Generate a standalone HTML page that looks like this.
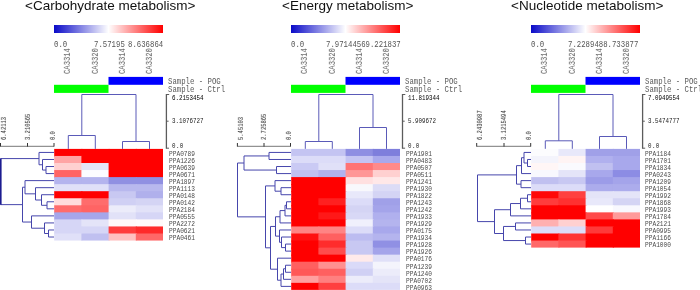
<!DOCTYPE html>
<html><head><meta charset="utf-8"><style>
*{margin:0;padding:0}
html,body{width:700px;height:290px;overflow:hidden;background:#fff}
body{position:relative}
svg{position:absolute;left:0;top:0}
div{position:absolute;white-space:pre;line-height:1;will-change:transform}
.t{font-family:"Liberation Sans",sans-serif;font-size:13.5px;color:#111}
.cb{top:24.8px;width:109px;height:8px;background:linear-gradient(to right,rgb(10,10,200),#fff 50%,#f00)}
.cl{font-family:"Liberation Mono",monospace;font-size:7.33px;color:#555;transform-origin:0 0;transform:scaleY(1.35)}
.col{font-family:"Liberation Mono",monospace;font-size:7.2px;color:#5a5a5a;transform-origin:0 0;transform:rotate(-90deg) scaleY(1.15)}
.sm{font-family:"Liberation Mono",monospace;font-size:7.33px;color:#5a5a5a;transform-origin:0 0;transform:scaleY(1.3)}
.sc{font-family:"Liberation Mono",monospace;font-size:5.85px;color:#222;transform-origin:0 0;transform:scaleY(1.2)}
.rs{font-family:"Liberation Mono",monospace;font-size:5.5px;color:#222;transform-origin:0 0;transform:rotate(-90deg) scaleY(1.15)}
.rl{font-family:"Liberation Mono",monospace;font-size:6.2px;color:#4a4a4a;transform-origin:0 0;transform:scaleY(1.2)}
</style></head><body>
<svg width="700" height="290" viewBox="0 0 700 290" shape-rendering="auto">
<rect x="108.5" y="76.9" width="54.5" height="7.9" fill="#0000ff"/>
<rect x="54" y="84.8" width="54.5" height="8.1" fill="#00ff00"/>
<line x1="81.80" y1="94.50" x2="136.00" y2="94.50" stroke="#5a5ab8" stroke-width="1"/>
<line x1="81.80" y1="94.50" x2="81.80" y2="135.50" stroke="#5a5ab8" stroke-width="1"/>
<line x1="136.00" y1="94.50" x2="136.00" y2="141.50" stroke="#5a5ab8" stroke-width="1"/>
<line x1="68.30" y1="135.50" x2="95.30" y2="135.50" stroke="#5a5ab8" stroke-width="1"/>
<line x1="68.30" y1="135.50" x2="68.30" y2="148.90" stroke="#5a5ab8" stroke-width="1"/>
<line x1="95.30" y1="135.50" x2="95.30" y2="148.90" stroke="#5a5ab8" stroke-width="1"/>
<line x1="122.50" y1="141.50" x2="149.50" y2="141.50" stroke="#5a5ab8" stroke-width="1"/>
<line x1="122.50" y1="141.50" x2="122.50" y2="148.90" stroke="#5a5ab8" stroke-width="1"/>
<line x1="149.50" y1="141.50" x2="149.50" y2="148.90" stroke="#5a5ab8" stroke-width="1"/>
<line x1="166.40" y1="94.00" x2="166.40" y2="148.70" stroke="#5c5c5c" stroke-width="1.3"/>
<line x1="166.40" y1="94.50" x2="169.20" y2="94.50" stroke="#5c5c5c" stroke-width="1"/>
<line x1="166.40" y1="121.20" x2="168.60" y2="121.20" stroke="#5c5c5c" stroke-width="1"/>
<line x1="166.40" y1="148.20" x2="169.00" y2="148.20" stroke="#5c5c5c" stroke-width="1"/>
<line x1="0.50" y1="146.30" x2="54.00" y2="146.30" stroke="#777" stroke-width="1"/>
<line x1="0.50" y1="143.00" x2="0.50" y2="146.60" stroke="#333" stroke-width="1"/>
<line x1="27.50" y1="143.00" x2="27.50" y2="146.60" stroke="#333" stroke-width="1"/>
<line x1="54.00" y1="143.00" x2="54.00" y2="146.60" stroke="#333" stroke-width="1"/>
<rect x="54.20" y="148.90" width="28.20" height="8.05" fill="#ff0000"/>
<rect x="81.40" y="148.90" width="28.20" height="8.05" fill="#ff0000"/>
<rect x="108.60" y="148.90" width="28.20" height="8.05" fill="#ff0000"/>
<rect x="135.80" y="148.90" width="27.20" height="8.05" fill="#ff0000"/>
<rect x="54.20" y="155.95" width="28.20" height="8.05" fill="#ffa4a4"/>
<rect x="81.40" y="155.95" width="28.20" height="8.05" fill="#ff0000"/>
<rect x="108.60" y="155.95" width="28.20" height="8.05" fill="#ff0000"/>
<rect x="135.80" y="155.95" width="27.20" height="8.05" fill="#ff0000"/>
<rect x="54.20" y="163.00" width="28.20" height="8.05" fill="#ffd0d0"/>
<rect x="81.40" y="163.00" width="28.20" height="8.05" fill="#e4e4f8"/>
<rect x="108.60" y="163.00" width="28.20" height="8.05" fill="#ff0000"/>
<rect x="135.80" y="163.00" width="27.20" height="8.05" fill="#ff0000"/>
<rect x="54.20" y="170.05" width="28.20" height="8.05" fill="#ff6464"/>
<rect x="81.40" y="170.05" width="28.20" height="8.05" fill="#fcfcff"/>
<rect x="108.60" y="170.05" width="28.20" height="8.05" fill="#ff0000"/>
<rect x="135.80" y="170.05" width="27.20" height="8.05" fill="#ff0000"/>
<rect x="54.20" y="177.10" width="28.20" height="8.05" fill="#b4b4ee"/>
<rect x="81.40" y="177.10" width="28.20" height="8.05" fill="#b4b4ee"/>
<rect x="108.60" y="177.10" width="28.20" height="8.05" fill="#9090e2"/>
<rect x="135.80" y="177.10" width="27.20" height="8.05" fill="#9090e2"/>
<rect x="54.20" y="184.15" width="28.20" height="8.05" fill="#e0e0f8"/>
<rect x="81.40" y="184.15" width="28.20" height="8.05" fill="#e0e0f8"/>
<rect x="108.60" y="184.15" width="28.20" height="8.05" fill="#b8b8ee"/>
<rect x="135.80" y="184.15" width="27.20" height="8.05" fill="#b8b8ee"/>
<rect x="54.20" y="191.20" width="28.20" height="8.05" fill="#ff0000"/>
<rect x="81.40" y="191.20" width="28.20" height="8.05" fill="#ff0000"/>
<rect x="108.60" y="191.20" width="28.20" height="8.05" fill="#c8c8f2"/>
<rect x="135.80" y="191.20" width="27.20" height="8.05" fill="#b0b0ec"/>
<rect x="54.20" y="198.25" width="28.20" height="8.05" fill="#ffdcdc"/>
<rect x="81.40" y="198.25" width="28.20" height="8.05" fill="#ff6c6c"/>
<rect x="108.60" y="198.25" width="28.20" height="8.05" fill="#d0d0f4"/>
<rect x="135.80" y="198.25" width="27.20" height="8.05" fill="#d4d4f4"/>
<rect x="54.20" y="205.30" width="28.20" height="8.05" fill="#ff6c6c"/>
<rect x="81.40" y="205.30" width="28.20" height="8.05" fill="#ff6464"/>
<rect x="108.60" y="205.30" width="28.20" height="8.05" fill="#ececfa"/>
<rect x="135.80" y="205.30" width="27.20" height="8.05" fill="#e2e2f8"/>
<rect x="54.20" y="212.35" width="28.20" height="8.05" fill="#a6a6ea"/>
<rect x="81.40" y="212.35" width="28.20" height="8.05" fill="#a6a6ea"/>
<rect x="108.60" y="212.35" width="28.20" height="8.05" fill="#e2e2f8"/>
<rect x="135.80" y="212.35" width="27.20" height="8.05" fill="#d6d6f6"/>
<rect x="54.20" y="219.40" width="28.20" height="8.05" fill="#d6d6f6"/>
<rect x="81.40" y="219.40" width="28.20" height="8.05" fill="#e4e4f8"/>
<rect x="108.60" y="219.40" width="28.20" height="8.05" fill="#fff8f8"/>
<rect x="135.80" y="219.40" width="27.20" height="8.05" fill="#fffafa"/>
<rect x="54.20" y="226.45" width="28.20" height="8.05" fill="#d6d6f6"/>
<rect x="81.40" y="226.45" width="28.20" height="8.05" fill="#d6d6f6"/>
<rect x="108.60" y="226.45" width="28.20" height="8.05" fill="#ff3c3c"/>
<rect x="135.80" y="226.45" width="27.20" height="8.05" fill="#ff2a2a"/>
<rect x="54.20" y="233.50" width="28.20" height="7.05" fill="#e0e0f8"/>
<rect x="81.40" y="233.50" width="28.20" height="7.05" fill="#c0c0f0"/>
<rect x="108.60" y="233.50" width="28.20" height="7.05" fill="#ffc0c0"/>
<rect x="135.80" y="233.50" width="27.20" height="7.05" fill="#ff6868"/>
<line x1="46.00" y1="166.53" x2="54.00" y2="166.53" stroke="#4646ac" stroke-width="1"/>
<line x1="46.00" y1="173.58" x2="54.00" y2="173.58" stroke="#4646ac" stroke-width="1"/>
<line x1="46.00" y1="166.53" x2="46.00" y2="173.58" stroke="#4646ac" stroke-width="1"/>
<line x1="42.50" y1="159.47" x2="54.00" y2="159.47" stroke="#4646ac" stroke-width="1"/>
<line x1="42.50" y1="170.05" x2="46.00" y2="170.05" stroke="#4646ac" stroke-width="1"/>
<line x1="42.50" y1="159.47" x2="42.50" y2="170.05" stroke="#4646ac" stroke-width="1"/>
<line x1="39.00" y1="152.43" x2="54.00" y2="152.43" stroke="#4646ac" stroke-width="1"/>
<line x1="39.00" y1="164.76" x2="42.50" y2="164.76" stroke="#4646ac" stroke-width="1"/>
<line x1="39.00" y1="152.43" x2="39.00" y2="164.76" stroke="#4646ac" stroke-width="1"/>
<line x1="47.00" y1="201.78" x2="54.00" y2="201.78" stroke="#4646ac" stroke-width="1"/>
<line x1="47.00" y1="208.82" x2="54.00" y2="208.82" stroke="#4646ac" stroke-width="1"/>
<line x1="47.00" y1="201.78" x2="47.00" y2="208.82" stroke="#4646ac" stroke-width="1"/>
<line x1="41.50" y1="194.72" x2="54.00" y2="194.72" stroke="#4646ac" stroke-width="1"/>
<line x1="41.50" y1="205.30" x2="47.00" y2="205.30" stroke="#4646ac" stroke-width="1"/>
<line x1="41.50" y1="194.72" x2="41.50" y2="205.30" stroke="#4646ac" stroke-width="1"/>
<line x1="35.50" y1="187.68" x2="54.00" y2="187.68" stroke="#4646ac" stroke-width="1"/>
<line x1="35.50" y1="200.01" x2="41.50" y2="200.01" stroke="#4646ac" stroke-width="1"/>
<line x1="35.50" y1="187.68" x2="35.50" y2="200.01" stroke="#4646ac" stroke-width="1"/>
<line x1="25.00" y1="180.62" x2="54.00" y2="180.62" stroke="#4646ac" stroke-width="1"/>
<line x1="25.00" y1="193.84" x2="35.50" y2="193.84" stroke="#4646ac" stroke-width="1"/>
<line x1="25.00" y1="180.62" x2="25.00" y2="193.84" stroke="#4646ac" stroke-width="1"/>
<line x1="48.50" y1="229.98" x2="54.00" y2="229.98" stroke="#4646ac" stroke-width="1"/>
<line x1="48.50" y1="237.03" x2="54.00" y2="237.03" stroke="#4646ac" stroke-width="1"/>
<line x1="48.50" y1="229.98" x2="48.50" y2="237.03" stroke="#4646ac" stroke-width="1"/>
<line x1="44.50" y1="222.93" x2="54.00" y2="222.93" stroke="#4646ac" stroke-width="1"/>
<line x1="44.50" y1="233.50" x2="48.50" y2="233.50" stroke="#4646ac" stroke-width="1"/>
<line x1="44.50" y1="222.93" x2="44.50" y2="233.50" stroke="#4646ac" stroke-width="1"/>
<line x1="31.50" y1="215.88" x2="54.00" y2="215.88" stroke="#4646ac" stroke-width="1"/>
<line x1="31.50" y1="228.21" x2="44.50" y2="228.21" stroke="#4646ac" stroke-width="1"/>
<line x1="31.50" y1="215.88" x2="31.50" y2="228.21" stroke="#4646ac" stroke-width="1"/>
<line x1="22.50" y1="187.23" x2="25.00" y2="187.23" stroke="#4646ac" stroke-width="1"/>
<line x1="22.50" y1="222.04" x2="31.50" y2="222.04" stroke="#4646ac" stroke-width="1"/>
<line x1="22.50" y1="187.23" x2="22.50" y2="222.04" stroke="#4646ac" stroke-width="1"/>
<line x1="0.50" y1="158.59" x2="39.00" y2="158.59" stroke="#4646ac" stroke-width="1"/>
<line x1="0.50" y1="204.64" x2="22.50" y2="204.64" stroke="#4646ac" stroke-width="1"/>
<line x1="0.80" y1="158.59" x2="0.80" y2="204.64" stroke="#1c1c90" stroke-width="1.6"/>
<rect x="345.5" y="76.9" width="54.5" height="7.9" fill="#0000ff"/>
<rect x="291" y="84.8" width="54.5" height="8.1" fill="#00ff00"/>
<line x1="318.80" y1="94.50" x2="373.00" y2="94.50" stroke="#5a5ab8" stroke-width="1"/>
<line x1="318.80" y1="94.50" x2="318.80" y2="141.50" stroke="#5a5ab8" stroke-width="1"/>
<line x1="373.00" y1="94.50" x2="373.00" y2="127.50" stroke="#5a5ab8" stroke-width="1"/>
<line x1="305.30" y1="141.50" x2="332.30" y2="141.50" stroke="#5a5ab8" stroke-width="1"/>
<line x1="305.30" y1="141.50" x2="305.30" y2="148.90" stroke="#5a5ab8" stroke-width="1"/>
<line x1="332.30" y1="141.50" x2="332.30" y2="148.90" stroke="#5a5ab8" stroke-width="1"/>
<line x1="359.50" y1="127.50" x2="386.50" y2="127.50" stroke="#5a5ab8" stroke-width="1"/>
<line x1="359.50" y1="127.50" x2="359.50" y2="148.90" stroke="#5a5ab8" stroke-width="1"/>
<line x1="386.50" y1="127.50" x2="386.50" y2="148.90" stroke="#5a5ab8" stroke-width="1"/>
<line x1="402.50" y1="94.00" x2="402.50" y2="148.70" stroke="#5c5c5c" stroke-width="1.3"/>
<line x1="402.50" y1="94.50" x2="405.30" y2="94.50" stroke="#5c5c5c" stroke-width="1"/>
<line x1="402.50" y1="121.20" x2="404.70" y2="121.20" stroke="#5c5c5c" stroke-width="1"/>
<line x1="402.50" y1="148.20" x2="405.10" y2="148.20" stroke="#5c5c5c" stroke-width="1"/>
<line x1="237.40" y1="146.30" x2="290.50" y2="146.30" stroke="#777" stroke-width="1"/>
<line x1="237.40" y1="143.00" x2="237.40" y2="146.60" stroke="#333" stroke-width="1"/>
<line x1="264.00" y1="143.00" x2="264.00" y2="146.60" stroke="#333" stroke-width="1"/>
<line x1="290.50" y1="143.00" x2="290.50" y2="146.60" stroke="#333" stroke-width="1"/>
<rect x="291.20" y="148.90" width="28.20" height="8.05" fill="#c4c4f2"/>
<rect x="318.40" y="148.90" width="28.20" height="8.05" fill="#c4c4f2"/>
<rect x="345.60" y="148.90" width="28.20" height="8.05" fill="#8e8ee2"/>
<rect x="372.80" y="148.90" width="27.20" height="8.05" fill="#7e7edc"/>
<rect x="291.20" y="155.95" width="28.20" height="8.05" fill="#dcdcf8"/>
<rect x="318.40" y="155.95" width="28.20" height="8.05" fill="#dcdcf8"/>
<rect x="345.60" y="155.95" width="28.20" height="8.05" fill="#c4c4f2"/>
<rect x="372.80" y="155.95" width="27.20" height="8.05" fill="#a8a8ec"/>
<rect x="291.20" y="163.00" width="28.20" height="8.05" fill="#cacaf4"/>
<rect x="318.40" y="163.00" width="28.20" height="8.05" fill="#e0e0f8"/>
<rect x="345.60" y="163.00" width="28.20" height="8.05" fill="#ff7474"/>
<rect x="372.80" y="163.00" width="27.20" height="8.05" fill="#ff8a8a"/>
<rect x="291.20" y="170.05" width="28.20" height="8.05" fill="#c0c0f0"/>
<rect x="318.40" y="170.05" width="28.20" height="8.05" fill="#b2b2ee"/>
<rect x="345.60" y="170.05" width="28.20" height="8.05" fill="#ff9696"/>
<rect x="372.80" y="170.05" width="27.20" height="8.05" fill="#ffd0d0"/>
<rect x="291.20" y="177.10" width="28.20" height="8.05" fill="#ff0000"/>
<rect x="318.40" y="177.10" width="28.20" height="8.05" fill="#ff0000"/>
<rect x="345.60" y="177.10" width="28.20" height="8.05" fill="#ffe0e0"/>
<rect x="372.80" y="177.10" width="27.20" height="8.05" fill="#ffe8e8"/>
<rect x="291.20" y="184.15" width="28.20" height="8.05" fill="#ff0000"/>
<rect x="318.40" y="184.15" width="28.20" height="8.05" fill="#ff0000"/>
<rect x="345.60" y="184.15" width="28.20" height="8.05" fill="#f8f8fc"/>
<rect x="372.80" y="184.15" width="27.20" height="8.05" fill="#dcdcf6"/>
<rect x="291.20" y="191.20" width="28.20" height="8.05" fill="#ff0000"/>
<rect x="318.40" y="191.20" width="28.20" height="8.05" fill="#ff0000"/>
<rect x="345.60" y="191.20" width="28.20" height="8.05" fill="#e8e8fa"/>
<rect x="372.80" y="191.20" width="27.20" height="8.05" fill="#d4d4f4"/>
<rect x="291.20" y="198.25" width="28.20" height="8.05" fill="#ff0000"/>
<rect x="318.40" y="198.25" width="28.20" height="8.05" fill="#ff2020"/>
<rect x="345.60" y="198.25" width="28.20" height="8.05" fill="#dcdcf8"/>
<rect x="372.80" y="198.25" width="27.20" height="8.05" fill="#a0a0e8"/>
<rect x="291.20" y="205.30" width="28.20" height="8.05" fill="#ff0000"/>
<rect x="318.40" y="205.30" width="28.20" height="8.05" fill="#ff0000"/>
<rect x="345.60" y="205.30" width="28.20" height="8.05" fill="#d4d4f4"/>
<rect x="372.80" y="205.30" width="27.20" height="8.05" fill="#a4a4ea"/>
<rect x="291.20" y="212.35" width="28.20" height="8.05" fill="#ff0000"/>
<rect x="318.40" y="212.35" width="28.20" height="8.05" fill="#ff1818"/>
<rect x="345.60" y="212.35" width="28.20" height="8.05" fill="#d8d8f6"/>
<rect x="372.80" y="212.35" width="27.20" height="8.05" fill="#b0b0ee"/>
<rect x="291.20" y="219.40" width="28.20" height="8.05" fill="#ff0000"/>
<rect x="318.40" y="219.40" width="28.20" height="8.05" fill="#ff0000"/>
<rect x="345.60" y="219.40" width="28.20" height="8.05" fill="#f0f0fc"/>
<rect x="372.80" y="219.40" width="27.20" height="8.05" fill="#b4b4ee"/>
<rect x="291.20" y="226.45" width="28.20" height="8.05" fill="#ff8484"/>
<rect x="318.40" y="226.45" width="28.20" height="8.05" fill="#ff8484"/>
<rect x="345.60" y="226.45" width="28.20" height="8.05" fill="#dcdcf8"/>
<rect x="372.80" y="226.45" width="27.20" height="8.05" fill="#a8a8ec"/>
<rect x="291.20" y="233.50" width="28.20" height="8.05" fill="#ff1010"/>
<rect x="318.40" y="233.50" width="28.20" height="8.05" fill="#ff6060"/>
<rect x="345.60" y="233.50" width="28.20" height="8.05" fill="#bcbcf0"/>
<rect x="372.80" y="233.50" width="27.20" height="8.05" fill="#b4b4ee"/>
<rect x="291.20" y="240.55" width="28.20" height="8.05" fill="#ff0000"/>
<rect x="318.40" y="240.55" width="28.20" height="8.05" fill="#ff2c2c"/>
<rect x="345.60" y="240.55" width="28.20" height="8.05" fill="#c8c8f2"/>
<rect x="372.80" y="240.55" width="27.20" height="8.05" fill="#9090e4"/>
<rect x="291.20" y="247.60" width="28.20" height="8.05" fill="#ff0000"/>
<rect x="318.40" y="247.60" width="28.20" height="8.05" fill="#ff4c4c"/>
<rect x="345.60" y="247.60" width="28.20" height="8.05" fill="#c8c8f2"/>
<rect x="372.80" y="247.60" width="27.20" height="8.05" fill="#a4a4ea"/>
<rect x="291.20" y="254.65" width="28.20" height="8.05" fill="#ff0000"/>
<rect x="318.40" y="254.65" width="28.20" height="8.05" fill="#ff0000"/>
<rect x="345.60" y="254.65" width="28.20" height="8.05" fill="#ffeaea"/>
<rect x="372.80" y="254.65" width="27.20" height="8.05" fill="#e0e0f8"/>
<rect x="291.20" y="261.70" width="28.20" height="8.05" fill="#ff6060"/>
<rect x="318.40" y="261.70" width="28.20" height="8.05" fill="#ff9090"/>
<rect x="345.60" y="261.70" width="28.20" height="8.05" fill="#dadaf8"/>
<rect x="372.80" y="261.70" width="27.20" height="8.05" fill="#f4f4fc"/>
<rect x="291.20" y="268.75" width="28.20" height="8.05" fill="#ff5858"/>
<rect x="318.40" y="268.75" width="28.20" height="8.05" fill="#ff6060"/>
<rect x="345.60" y="268.75" width="28.20" height="8.05" fill="#d0d0f4"/>
<rect x="372.80" y="268.75" width="27.20" height="8.05" fill="#ececfa"/>
<rect x="291.20" y="275.80" width="28.20" height="8.05" fill="#ffa0a0"/>
<rect x="318.40" y="275.80" width="28.20" height="8.05" fill="#ff8080"/>
<rect x="345.60" y="275.80" width="28.20" height="8.05" fill="#ececfa"/>
<rect x="372.80" y="275.80" width="27.20" height="8.05" fill="#e4e4f8"/>
<rect x="291.20" y="282.85" width="28.20" height="7.05" fill="#ff0000"/>
<rect x="318.40" y="282.85" width="28.20" height="7.05" fill="#ff4040"/>
<rect x="345.60" y="282.85" width="28.20" height="7.05" fill="#dcdcf8"/>
<rect x="372.80" y="282.85" width="27.20" height="7.05" fill="#dcdcf8"/>
<line x1="269.00" y1="152.43" x2="291.00" y2="152.43" stroke="#4646ac" stroke-width="1"/>
<line x1="269.00" y1="159.47" x2="291.00" y2="159.47" stroke="#4646ac" stroke-width="1"/>
<line x1="269.00" y1="152.43" x2="269.00" y2="159.47" stroke="#4646ac" stroke-width="1"/>
<line x1="276.50" y1="166.53" x2="291.00" y2="166.53" stroke="#4646ac" stroke-width="1"/>
<line x1="276.50" y1="173.58" x2="291.00" y2="173.58" stroke="#4646ac" stroke-width="1"/>
<line x1="276.50" y1="166.53" x2="276.50" y2="173.58" stroke="#4646ac" stroke-width="1"/>
<line x1="244.00" y1="155.95" x2="269.00" y2="155.95" stroke="#4646ac" stroke-width="1"/>
<line x1="244.00" y1="170.05" x2="276.50" y2="170.05" stroke="#4646ac" stroke-width="1"/>
<line x1="244.00" y1="155.95" x2="244.00" y2="170.05" stroke="#4646ac" stroke-width="1"/>
<line x1="281.00" y1="187.68" x2="291.00" y2="187.68" stroke="#4646ac" stroke-width="1"/>
<line x1="281.00" y1="194.72" x2="291.00" y2="194.72" stroke="#4646ac" stroke-width="1"/>
<line x1="281.00" y1="187.68" x2="281.00" y2="194.72" stroke="#4646ac" stroke-width="1"/>
<line x1="275.00" y1="180.62" x2="291.00" y2="180.62" stroke="#4646ac" stroke-width="1"/>
<line x1="275.00" y1="191.20" x2="281.00" y2="191.20" stroke="#4646ac" stroke-width="1"/>
<line x1="275.00" y1="180.62" x2="275.00" y2="191.20" stroke="#4646ac" stroke-width="1"/>
<line x1="286.50" y1="201.78" x2="291.00" y2="201.78" stroke="#4646ac" stroke-width="1"/>
<line x1="286.50" y1="208.82" x2="291.00" y2="208.82" stroke="#4646ac" stroke-width="1"/>
<line x1="286.50" y1="201.78" x2="286.50" y2="208.82" stroke="#4646ac" stroke-width="1"/>
<line x1="285.00" y1="205.30" x2="286.50" y2="205.30" stroke="#4646ac" stroke-width="1"/>
<line x1="285.00" y1="215.88" x2="291.00" y2="215.88" stroke="#4646ac" stroke-width="1"/>
<line x1="285.00" y1="205.30" x2="285.00" y2="215.88" stroke="#4646ac" stroke-width="1"/>
<line x1="280.00" y1="210.59" x2="285.00" y2="210.59" stroke="#4646ac" stroke-width="1"/>
<line x1="280.00" y1="222.93" x2="291.00" y2="222.93" stroke="#4646ac" stroke-width="1"/>
<line x1="280.00" y1="210.59" x2="280.00" y2="222.93" stroke="#4646ac" stroke-width="1"/>
<line x1="285.50" y1="244.07" x2="291.00" y2="244.07" stroke="#4646ac" stroke-width="1"/>
<line x1="285.50" y1="251.12" x2="291.00" y2="251.12" stroke="#4646ac" stroke-width="1"/>
<line x1="285.50" y1="244.07" x2="285.50" y2="251.12" stroke="#4646ac" stroke-width="1"/>
<line x1="281.50" y1="237.03" x2="291.00" y2="237.03" stroke="#4646ac" stroke-width="1"/>
<line x1="281.50" y1="247.60" x2="285.50" y2="247.60" stroke="#4646ac" stroke-width="1"/>
<line x1="281.50" y1="237.03" x2="281.50" y2="247.60" stroke="#4646ac" stroke-width="1"/>
<line x1="279.50" y1="229.98" x2="291.00" y2="229.98" stroke="#4646ac" stroke-width="1"/>
<line x1="279.50" y1="242.31" x2="281.50" y2="242.31" stroke="#4646ac" stroke-width="1"/>
<line x1="279.50" y1="229.98" x2="279.50" y2="242.31" stroke="#4646ac" stroke-width="1"/>
<line x1="275.50" y1="216.76" x2="280.00" y2="216.76" stroke="#4646ac" stroke-width="1"/>
<line x1="275.50" y1="236.14" x2="279.50" y2="236.14" stroke="#4646ac" stroke-width="1"/>
<line x1="275.50" y1="216.76" x2="275.50" y2="236.14" stroke="#4646ac" stroke-width="1"/>
<line x1="285.50" y1="265.23" x2="291.00" y2="265.23" stroke="#4646ac" stroke-width="1"/>
<line x1="285.50" y1="272.27" x2="291.00" y2="272.27" stroke="#4646ac" stroke-width="1"/>
<line x1="285.50" y1="265.23" x2="285.50" y2="272.27" stroke="#4646ac" stroke-width="1"/>
<line x1="283.50" y1="268.75" x2="285.50" y2="268.75" stroke="#4646ac" stroke-width="1"/>
<line x1="283.50" y1="279.32" x2="291.00" y2="279.32" stroke="#4646ac" stroke-width="1"/>
<line x1="283.50" y1="268.75" x2="283.50" y2="279.32" stroke="#4646ac" stroke-width="1"/>
<line x1="281.00" y1="274.04" x2="283.50" y2="274.04" stroke="#4646ac" stroke-width="1"/>
<line x1="281.00" y1="286.38" x2="291.00" y2="286.38" stroke="#4646ac" stroke-width="1"/>
<line x1="281.00" y1="274.04" x2="281.00" y2="286.38" stroke="#4646ac" stroke-width="1"/>
<line x1="277.50" y1="258.18" x2="291.00" y2="258.18" stroke="#4646ac" stroke-width="1"/>
<line x1="277.50" y1="280.21" x2="281.00" y2="280.21" stroke="#4646ac" stroke-width="1"/>
<line x1="277.50" y1="258.18" x2="277.50" y2="280.21" stroke="#4646ac" stroke-width="1"/>
<line x1="270.50" y1="226.45" x2="275.50" y2="226.45" stroke="#4646ac" stroke-width="1"/>
<line x1="270.50" y1="269.19" x2="277.50" y2="269.19" stroke="#4646ac" stroke-width="1"/>
<line x1="270.50" y1="226.45" x2="270.50" y2="269.19" stroke="#4646ac" stroke-width="1"/>
<line x1="265.50" y1="185.91" x2="275.00" y2="185.91" stroke="#4646ac" stroke-width="1"/>
<line x1="265.50" y1="247.82" x2="270.50" y2="247.82" stroke="#4646ac" stroke-width="1"/>
<line x1="265.50" y1="185.91" x2="265.50" y2="247.82" stroke="#4646ac" stroke-width="1"/>
<line x1="237.50" y1="163.00" x2="244.00" y2="163.00" stroke="#4646ac" stroke-width="1"/>
<line x1="237.50" y1="216.87" x2="265.50" y2="216.87" stroke="#4646ac" stroke-width="1"/>
<line x1="237.50" y1="163.00" x2="237.50" y2="216.87" stroke="#4646ac" stroke-width="1"/>
<rect x="585.5" y="76.9" width="54.5" height="7.9" fill="#0000ff"/>
<rect x="531" y="84.8" width="54.5" height="8.1" fill="#00ff00"/>
<line x1="558.80" y1="94.50" x2="613.00" y2="94.50" stroke="#5a5ab8" stroke-width="1"/>
<line x1="558.80" y1="94.50" x2="558.80" y2="140.80" stroke="#5a5ab8" stroke-width="1"/>
<line x1="613.00" y1="94.50" x2="613.00" y2="136.50" stroke="#5a5ab8" stroke-width="1"/>
<line x1="545.30" y1="140.80" x2="572.30" y2="140.80" stroke="#5a5ab8" stroke-width="1"/>
<line x1="545.30" y1="140.80" x2="545.30" y2="148.90" stroke="#5a5ab8" stroke-width="1"/>
<line x1="572.30" y1="140.80" x2="572.30" y2="148.90" stroke="#5a5ab8" stroke-width="1"/>
<line x1="599.50" y1="136.50" x2="626.50" y2="136.50" stroke="#5a5ab8" stroke-width="1"/>
<line x1="599.50" y1="136.50" x2="599.50" y2="148.90" stroke="#5a5ab8" stroke-width="1"/>
<line x1="626.50" y1="136.50" x2="626.50" y2="148.90" stroke="#5a5ab8" stroke-width="1"/>
<line x1="642.60" y1="94.00" x2="642.60" y2="148.70" stroke="#5c5c5c" stroke-width="1.3"/>
<line x1="642.60" y1="94.50" x2="645.40" y2="94.50" stroke="#5c5c5c" stroke-width="1"/>
<line x1="642.60" y1="121.20" x2="644.80" y2="121.20" stroke="#5c5c5c" stroke-width="1"/>
<line x1="642.60" y1="148.20" x2="645.20" y2="148.20" stroke="#5c5c5c" stroke-width="1"/>
<line x1="476.70" y1="146.30" x2="530.70" y2="146.30" stroke="#777" stroke-width="1"/>
<line x1="476.70" y1="143.00" x2="476.70" y2="146.60" stroke="#333" stroke-width="1"/>
<line x1="504.00" y1="143.00" x2="504.00" y2="146.60" stroke="#333" stroke-width="1"/>
<line x1="530.70" y1="143.00" x2="530.70" y2="146.60" stroke="#333" stroke-width="1"/>
<rect x="531.20" y="148.90" width="28.20" height="8.05" fill="#fcfcfe"/>
<rect x="558.40" y="148.90" width="28.20" height="8.05" fill="#e8e8fa"/>
<rect x="585.60" y="148.90" width="28.20" height="8.05" fill="#a0a0e8"/>
<rect x="612.80" y="148.90" width="27.20" height="8.05" fill="#a0a0e8"/>
<rect x="531.20" y="155.95" width="28.20" height="8.05" fill="#f4f4fc"/>
<rect x="558.40" y="155.95" width="28.20" height="8.05" fill="#fff4f4"/>
<rect x="585.60" y="155.95" width="28.20" height="8.05" fill="#b0b0ee"/>
<rect x="612.80" y="155.95" width="27.20" height="8.05" fill="#a8a8ec"/>
<rect x="531.20" y="163.00" width="28.20" height="8.05" fill="#fff6f6"/>
<rect x="558.40" y="163.00" width="28.20" height="8.05" fill="#fafafe"/>
<rect x="585.60" y="163.00" width="28.20" height="8.05" fill="#c0c0f0"/>
<rect x="612.80" y="163.00" width="27.20" height="8.05" fill="#a8a8ec"/>
<rect x="531.20" y="170.05" width="28.20" height="8.05" fill="#f8f8fe"/>
<rect x="558.40" y="170.05" width="28.20" height="8.05" fill="#e4e4f8"/>
<rect x="585.60" y="170.05" width="28.20" height="8.05" fill="#a8a8ec"/>
<rect x="612.80" y="170.05" width="27.20" height="8.05" fill="#8c8ce4"/>
<rect x="531.20" y="177.10" width="28.20" height="8.05" fill="#c0c0f0"/>
<rect x="558.40" y="177.10" width="28.20" height="8.05" fill="#c8c8f2"/>
<rect x="585.60" y="177.10" width="28.20" height="8.05" fill="#9c9ce8"/>
<rect x="612.80" y="177.10" width="27.20" height="8.05" fill="#a4a4ea"/>
<rect x="531.20" y="184.15" width="28.20" height="8.05" fill="#dcdcf8"/>
<rect x="558.40" y="184.15" width="28.20" height="8.05" fill="#dcdcf8"/>
<rect x="585.60" y="184.15" width="28.20" height="8.05" fill="#acacec"/>
<rect x="612.80" y="184.15" width="27.20" height="8.05" fill="#acacec"/>
<rect x="531.20" y="191.20" width="28.20" height="8.05" fill="#ff0808"/>
<rect x="558.40" y="191.20" width="28.20" height="8.05" fill="#ff4040"/>
<rect x="585.60" y="191.20" width="28.20" height="8.05" fill="#e4e4f8"/>
<rect x="612.80" y="191.20" width="27.20" height="8.05" fill="#e4e4f8"/>
<rect x="531.20" y="198.25" width="28.20" height="8.05" fill="#ff3c3c"/>
<rect x="558.40" y="198.25" width="28.20" height="8.05" fill="#ff3030"/>
<rect x="585.60" y="198.25" width="28.20" height="8.05" fill="#e8e8fa"/>
<rect x="612.80" y="198.25" width="27.20" height="8.05" fill="#d4d4f4"/>
<rect x="531.20" y="205.30" width="28.20" height="8.05" fill="#ff0000"/>
<rect x="558.40" y="205.30" width="28.20" height="8.05" fill="#ff0000"/>
<rect x="585.60" y="205.30" width="28.20" height="8.05" fill="#ffffff"/>
<rect x="612.80" y="205.30" width="27.20" height="8.05" fill="#f8f8fe"/>
<rect x="531.20" y="212.35" width="28.20" height="8.05" fill="#ff0000"/>
<rect x="558.40" y="212.35" width="28.20" height="8.05" fill="#ff0000"/>
<rect x="585.60" y="212.35" width="28.20" height="8.05" fill="#ff4a4a"/>
<rect x="612.80" y="212.35" width="27.20" height="8.05" fill="#ff9a9a"/>
<rect x="531.20" y="219.40" width="28.20" height="8.05" fill="#ffb0b0"/>
<rect x="558.40" y="219.40" width="28.20" height="8.05" fill="#ffd0d0"/>
<rect x="585.60" y="219.40" width="28.20" height="8.05" fill="#ff0000"/>
<rect x="612.80" y="219.40" width="27.20" height="8.05" fill="#ff0000"/>
<rect x="531.20" y="226.45" width="28.20" height="8.05" fill="#dcdcf8"/>
<rect x="558.40" y="226.45" width="28.20" height="8.05" fill="#dcdcf8"/>
<rect x="585.60" y="226.45" width="28.20" height="8.05" fill="#ff3a3a"/>
<rect x="612.80" y="226.45" width="27.20" height="8.05" fill="#ff0000"/>
<rect x="531.20" y="233.50" width="28.20" height="8.05" fill="#ff0000"/>
<rect x="558.40" y="233.50" width="28.20" height="8.05" fill="#ff3434"/>
<rect x="585.60" y="233.50" width="28.20" height="8.05" fill="#ff0000"/>
<rect x="612.80" y="233.50" width="27.20" height="8.05" fill="#ff0000"/>
<rect x="531.20" y="240.55" width="28.20" height="7.05" fill="#ff6868"/>
<rect x="558.40" y="240.55" width="28.20" height="7.05" fill="#ff5454"/>
<rect x="585.60" y="240.55" width="28.20" height="7.05" fill="#ff0000"/>
<rect x="612.80" y="240.55" width="27.20" height="7.05" fill="#ff0000"/>
<line x1="527.50" y1="159.47" x2="531.00" y2="159.47" stroke="#4646ac" stroke-width="1"/>
<line x1="527.50" y1="166.53" x2="531.00" y2="166.53" stroke="#4646ac" stroke-width="1"/>
<line x1="527.50" y1="159.47" x2="527.50" y2="166.53" stroke="#4646ac" stroke-width="1"/>
<line x1="524.00" y1="152.43" x2="531.00" y2="152.43" stroke="#4646ac" stroke-width="1"/>
<line x1="524.00" y1="163.00" x2="527.50" y2="163.00" stroke="#4646ac" stroke-width="1"/>
<line x1="524.00" y1="152.43" x2="524.00" y2="163.00" stroke="#4646ac" stroke-width="1"/>
<line x1="521.50" y1="157.71" x2="524.00" y2="157.71" stroke="#4646ac" stroke-width="1"/>
<line x1="521.50" y1="173.58" x2="531.00" y2="173.58" stroke="#4646ac" stroke-width="1"/>
<line x1="521.50" y1="157.71" x2="521.50" y2="173.58" stroke="#4646ac" stroke-width="1"/>
<line x1="521.00" y1="180.62" x2="531.00" y2="180.62" stroke="#4646ac" stroke-width="1"/>
<line x1="521.00" y1="187.68" x2="531.00" y2="187.68" stroke="#4646ac" stroke-width="1"/>
<line x1="521.00" y1="180.62" x2="521.00" y2="187.68" stroke="#4646ac" stroke-width="1"/>
<line x1="516.50" y1="165.64" x2="521.50" y2="165.64" stroke="#4646ac" stroke-width="1"/>
<line x1="516.50" y1="184.15" x2="521.00" y2="184.15" stroke="#4646ac" stroke-width="1"/>
<line x1="516.50" y1="165.64" x2="516.50" y2="184.15" stroke="#4646ac" stroke-width="1"/>
<line x1="527.50" y1="194.72" x2="531.00" y2="194.72" stroke="#4646ac" stroke-width="1"/>
<line x1="527.50" y1="201.78" x2="531.00" y2="201.78" stroke="#4646ac" stroke-width="1"/>
<line x1="527.50" y1="194.72" x2="527.50" y2="201.78" stroke="#4646ac" stroke-width="1"/>
<line x1="520.50" y1="198.25" x2="527.50" y2="198.25" stroke="#4646ac" stroke-width="1"/>
<line x1="520.50" y1="208.82" x2="531.00" y2="208.82" stroke="#4646ac" stroke-width="1"/>
<line x1="520.50" y1="198.25" x2="520.50" y2="208.82" stroke="#4646ac" stroke-width="1"/>
<line x1="510.50" y1="203.54" x2="520.50" y2="203.54" stroke="#4646ac" stroke-width="1"/>
<line x1="510.50" y1="215.88" x2="531.00" y2="215.88" stroke="#4646ac" stroke-width="1"/>
<line x1="510.50" y1="203.54" x2="510.50" y2="215.88" stroke="#4646ac" stroke-width="1"/>
<line x1="515.50" y1="222.93" x2="531.00" y2="222.93" stroke="#4646ac" stroke-width="1"/>
<line x1="515.50" y1="229.98" x2="531.00" y2="229.98" stroke="#4646ac" stroke-width="1"/>
<line x1="515.50" y1="222.93" x2="515.50" y2="229.98" stroke="#4646ac" stroke-width="1"/>
<line x1="525.50" y1="237.03" x2="531.00" y2="237.03" stroke="#4646ac" stroke-width="1"/>
<line x1="525.50" y1="244.07" x2="531.00" y2="244.07" stroke="#4646ac" stroke-width="1"/>
<line x1="525.50" y1="237.03" x2="525.50" y2="244.07" stroke="#4646ac" stroke-width="1"/>
<line x1="503.50" y1="226.45" x2="515.50" y2="226.45" stroke="#4646ac" stroke-width="1"/>
<line x1="503.50" y1="240.55" x2="525.50" y2="240.55" stroke="#4646ac" stroke-width="1"/>
<line x1="503.50" y1="226.45" x2="503.50" y2="240.55" stroke="#4646ac" stroke-width="1"/>
<line x1="494.50" y1="209.71" x2="510.50" y2="209.71" stroke="#4646ac" stroke-width="1"/>
<line x1="494.50" y1="233.50" x2="503.50" y2="233.50" stroke="#4646ac" stroke-width="1"/>
<line x1="494.50" y1="209.71" x2="494.50" y2="233.50" stroke="#4646ac" stroke-width="1"/>
<line x1="477.50" y1="174.90" x2="516.50" y2="174.90" stroke="#4646ac" stroke-width="1"/>
<line x1="477.50" y1="221.60" x2="494.50" y2="221.60" stroke="#4646ac" stroke-width="1"/>
<line x1="477.50" y1="174.90" x2="477.50" y2="221.60" stroke="#4646ac" stroke-width="1"/>
</svg>
<div class="t" style="left:24.8px;top:-0.6px;">&lt;Carbohydrate metabolism&gt;</div>
<div class="cb" style="left:54px"></div>
<div class="cl" style="left:54px;top:39.8px;">0.0</div>
<div class="cl" style="left:93.8px;top:39.8px;">7.57195</div>
<div class="cl" style="left:127.6px;top:39.8px;">8.636864</div>
<div class="col" style="left:64.33px;top:73.7px;">CA3314</div>
<div class="col" style="left:91.58px;top:73.7px;">CA3320</div>
<div class="col" style="left:118.83px;top:73.7px;">CA3314</div>
<div class="col" style="left:146.07px;top:73.7px;">CA3320</div>
<div class="sm" style="left:168px;top:77.6px;">Sample - POG</div>
<div class="sm" style="left:168px;top:85.8px;">Sample - Ctrl</div>
<div class="sc" style="left:171.9px;top:95.3px;color:#000">6.2153454</div>
<div class="sc" style="left:171.9px;top:117.9px;">3.1076727</div>
<div class="sc" style="left:171.9px;top:143.4px;letter-spacing:0.4px">0.0</div>
<div class="rs" style="left:1.0px;top:139.9px;">6.42113</div>
<div class="rs" style="left:24.8px;top:139.9px;">3.210565</div>
<div class="rs" style="left:49.5px;top:139.9px;letter-spacing:-0.6px">0.0</div>
<div class="rl" style="left:169px;top:150.53px;">PPA0789</div>
<div class="rl" style="left:169px;top:157.59px;">PPA1226</div>
<div class="rl" style="left:169px;top:164.65px;">PPA0639</div>
<div class="rl" style="left:169px;top:171.72px;">PPA0671</div>
<div class="rl" style="left:169px;top:178.78px;">PPA1897</div>
<div class="rl" style="left:169px;top:185.84px;">PPA1113</div>
<div class="rl" style="left:169px;top:192.91px;">PPA0148</div>
<div class="rl" style="left:169px;top:199.97px;">PPA0142</div>
<div class="rl" style="left:169px;top:207.04px;">PPA2184</div>
<div class="rl" style="left:169px;top:214.1px;">PPA0555</div>
<div class="rl" style="left:169px;top:221.16px;">PPA2272</div>
<div class="rl" style="left:169px;top:228.23px;">PPA0621</div>
<div class="rl" style="left:169px;top:235.29px;">PPA0461</div>
<div class="t" style="left:281.8px;top:-0.6px;">&lt;Energy metabolism&gt;</div>
<div class="cb" style="left:291px"></div>
<div class="cl" style="left:291px;top:39.8px;">0.0</div>
<div class="cl" style="left:326px;top:39.8px;">7.97144569.221837</div>
<div class="col" style="left:301.32px;top:73.7px;">CA3314</div>
<div class="col" style="left:328.57px;top:73.7px;">CA3320</div>
<div class="col" style="left:355.82px;top:73.7px;">CA3314</div>
<div class="col" style="left:383.07px;top:73.7px;">CA3320</div>
<div class="sm" style="left:405px;top:77.6px;">Sample - POG</div>
<div class="sm" style="left:405px;top:85.8px;">Sample - Ctrl</div>
<div class="sc" style="left:408.0px;top:95.3px;color:#000">11.819344</div>
<div class="sc" style="left:408.0px;top:117.9px;">5.909672</div>
<div class="sc" style="left:408.0px;top:143.4px;letter-spacing:0.4px">0.0</div>
<div class="rs" style="left:237.9px;top:139.9px;">5.45103</div>
<div class="rs" style="left:261.3px;top:139.9px;">2.725865</div>
<div class="rs" style="left:286.0px;top:139.9px;letter-spacing:-0.6px">0.0</div>
<div class="rl" style="left:406px;top:150.53px;">PPA1901</div>
<div class="rl" style="left:406px;top:157.59px;">PPA0483</div>
<div class="rl" style="left:406px;top:164.65px;">PPA0507</div>
<div class="rl" style="left:406px;top:171.72px;">PPA0511</div>
<div class="rl" style="left:406px;top:178.78px;">PPA1241</div>
<div class="rl" style="left:406px;top:185.84px;">PPA1930</div>
<div class="rl" style="left:406px;top:192.91px;">PPA1822</div>
<div class="rl" style="left:406px;top:199.97px;">PPA1243</div>
<div class="rl" style="left:406px;top:207.04px;">PPA1242</div>
<div class="rl" style="left:406px;top:214.1px;">PPA1933</div>
<div class="rl" style="left:406px;top:221.16px;">PPA1929</div>
<div class="rl" style="left:406px;top:228.23px;">PPA0175</div>
<div class="rl" style="left:406px;top:235.29px;">PPA1934</div>
<div class="rl" style="left:406px;top:242.36px;">PPA1928</div>
<div class="rl" style="left:406px;top:249.42px;">PPA1926</div>
<div class="rl" style="left:406px;top:256.49px;">PPA0176</div>
<div class="rl" style="left:406px;top:263.55px;">PPA1239</div>
<div class="rl" style="left:406px;top:270.61px;">PPA1240</div>
<div class="rl" style="left:406px;top:277.68px;">PPA0702</div>
<div class="rl" style="left:406px;top:284.74px;">PPA0963</div>
<div class="t" style="left:510.8px;top:-0.6px;">&lt;Nucleotide metabolism&gt;</div>
<div class="cb" style="left:531px"></div>
<div class="cl" style="left:531px;top:39.8px;">0.0</div>
<div class="cl" style="left:568.4px;top:39.8px;">7.2289488.733877</div>
<div class="col" style="left:541.33px;top:73.7px;">CA3314</div>
<div class="col" style="left:568.58px;top:73.7px;">CA3320</div>
<div class="col" style="left:595.83px;top:73.7px;">CA3314</div>
<div class="col" style="left:623.08px;top:73.7px;">CA3320</div>
<div class="sm" style="left:645px;top:77.6px;">Sample - POG</div>
<div class="sm" style="left:645px;top:85.8px;">Sample - Ctrl</div>
<div class="sc" style="left:648.1px;top:95.3px;color:#000">7.0949554</div>
<div class="sc" style="left:648.1px;top:117.9px;">3.5474777</div>
<div class="sc" style="left:648.1px;top:143.4px;letter-spacing:0.4px">0.0</div>
<div class="rs" style="left:477.2px;top:139.9px;">6.2430987</div>
<div class="rs" style="left:501.3px;top:139.9px;">3.1215494</div>
<div class="rs" style="left:526.2px;top:139.9px;letter-spacing:-0.6px">0.0</div>
<div class="rl" style="left:645px;top:150.53px;">PPA1184</div>
<div class="rl" style="left:645px;top:157.59px;">PPA1701</div>
<div class="rl" style="left:645px;top:164.65px;">PPA1834</div>
<div class="rl" style="left:645px;top:171.72px;">PPA0243</div>
<div class="rl" style="left:645px;top:178.78px;">PPA1209</div>
<div class="rl" style="left:645px;top:185.84px;">PPA1054</div>
<div class="rl" style="left:645px;top:192.91px;">PPA1992</div>
<div class="rl" style="left:645px;top:199.97px;">PPA1868</div>
<div class="rl" style="left:645px;top:207.04px;">PPA1993</div>
<div class="rl" style="left:645px;top:214.1px;">PPA1784</div>
<div class="rl" style="left:645px;top:221.16px;">PPA2121</div>
<div class="rl" style="left:645px;top:228.23px;">PPA0995</div>
<div class="rl" style="left:645px;top:235.29px;">PPA1166</div>
<div class="rl" style="left:645px;top:242.36px;">PPA1000</div>
</body></html>
